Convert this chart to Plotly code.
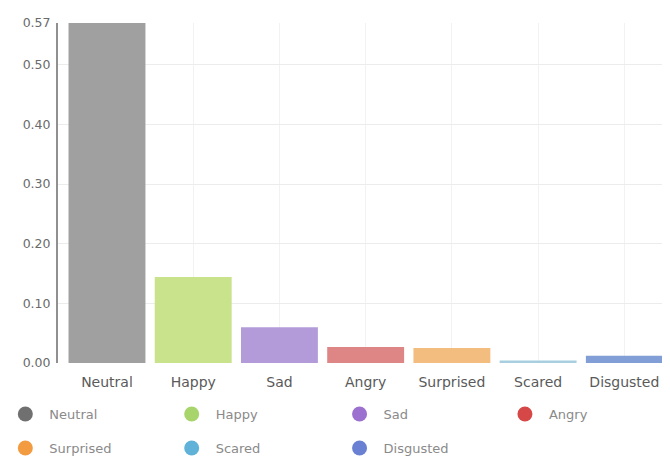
import plotly.graph_objects as go

categories = ["Neutral", "Happy", "Sad", "Angry", "Surprised", "Scared", "Disgusted"]
values = [0.57, 0.144, 0.060, 0.027, 0.025, 0.004, 0.012]
bar_colors = ["#a0a0a0", "#c8e38c", "#b39bd9", "#de8585", "#f2bd7f", "#a8cfe0", "#819fd6"]
legend_colors = ["#707070", "#a8d46c", "#9c70cf", "#d64848", "#f29b40", "#60b2d8", "#6a80d2"]
y_ticks = [0.0, 0.1, 0.2, 0.3, 0.4, 0.5, 0.57]

# legend slot positions (paper coords): one small legend per entry, two rows
legend_ids = ["legend", "legend2", "legend3", "legend4", "legend5", "legend6", "legend7"]
legend_x = [-0.0932, 0.1804, 0.4565, 0.7285, -0.0932, 0.1804, 0.4565]
legend_y = [-0.15, -0.15, -0.15, -0.15, -0.25, -0.25, -0.25]

fig = go.Figure()
fig.add_trace(go.Bar(
    x=categories, y=values,
    marker=dict(color=bar_colors, line=dict(width=0)),
    showlegend=False, hoverinfo="x+y",
))
for name, col, lg in zip(categories, legend_colors, legend_ids):
    fig.add_trace(go.Scatter(
        x=[None], y=[None], mode="markers", name=name, legend=lg,
        marker=dict(symbol="circle", size=15, color=col),
    ))

FONT = "DejaVu Sans, Verdana, sans-serif"
legend_common = dict(
    orientation="h", xanchor="left", yanchor="middle",
    font=dict(family=FONT, size=13, color="#8a8a8a"),
    itemwidth=38, bgcolor="rgba(0,0,0,0)",
)
legends = {
    lg: dict(x=lx, y=ly, **legend_common)
    for lg, lx, ly in zip(legend_ids, legend_x, legend_y)
}

# the page body adds an 8px offset, so the figure is drawn 8px smaller
fig.update_layout(
    width=662, height=448,
    margin=dict(l=49.5, r=4, t=15, b=93, autoexpand=False),
    paper_bgcolor="white", plot_bgcolor="white",
    font=dict(family=FONT, size=12, color="#555555"),
    bargap=0.108,
    xaxis=dict(
        range=[-0.568, 6.483],
        showgrid=True, gridcolor="#f2f2f2", gridwidth=1,
        showline=False, ticks="", tickfont=dict(family=FONT, size=14, color="#5a5a5a"),
        ticklabelstandoff=9, automargin=False,
    ),
    yaxis=dict(
        range=[0, 0.57], tickvals=y_ticks, tickformat=".2f",
        showgrid=True, gridcolor="#ececec", gridwidth=1,
        showline=True, linecolor="#909090", linewidth=2,
        zeroline=False, ticks="", ticklabelstandoff=3,
        tickfont=dict(family=FONT, size=12.5, color="#6a6a6a"), automargin=False,
    ),
    **legends,
)
fig.write_html("out.html")
